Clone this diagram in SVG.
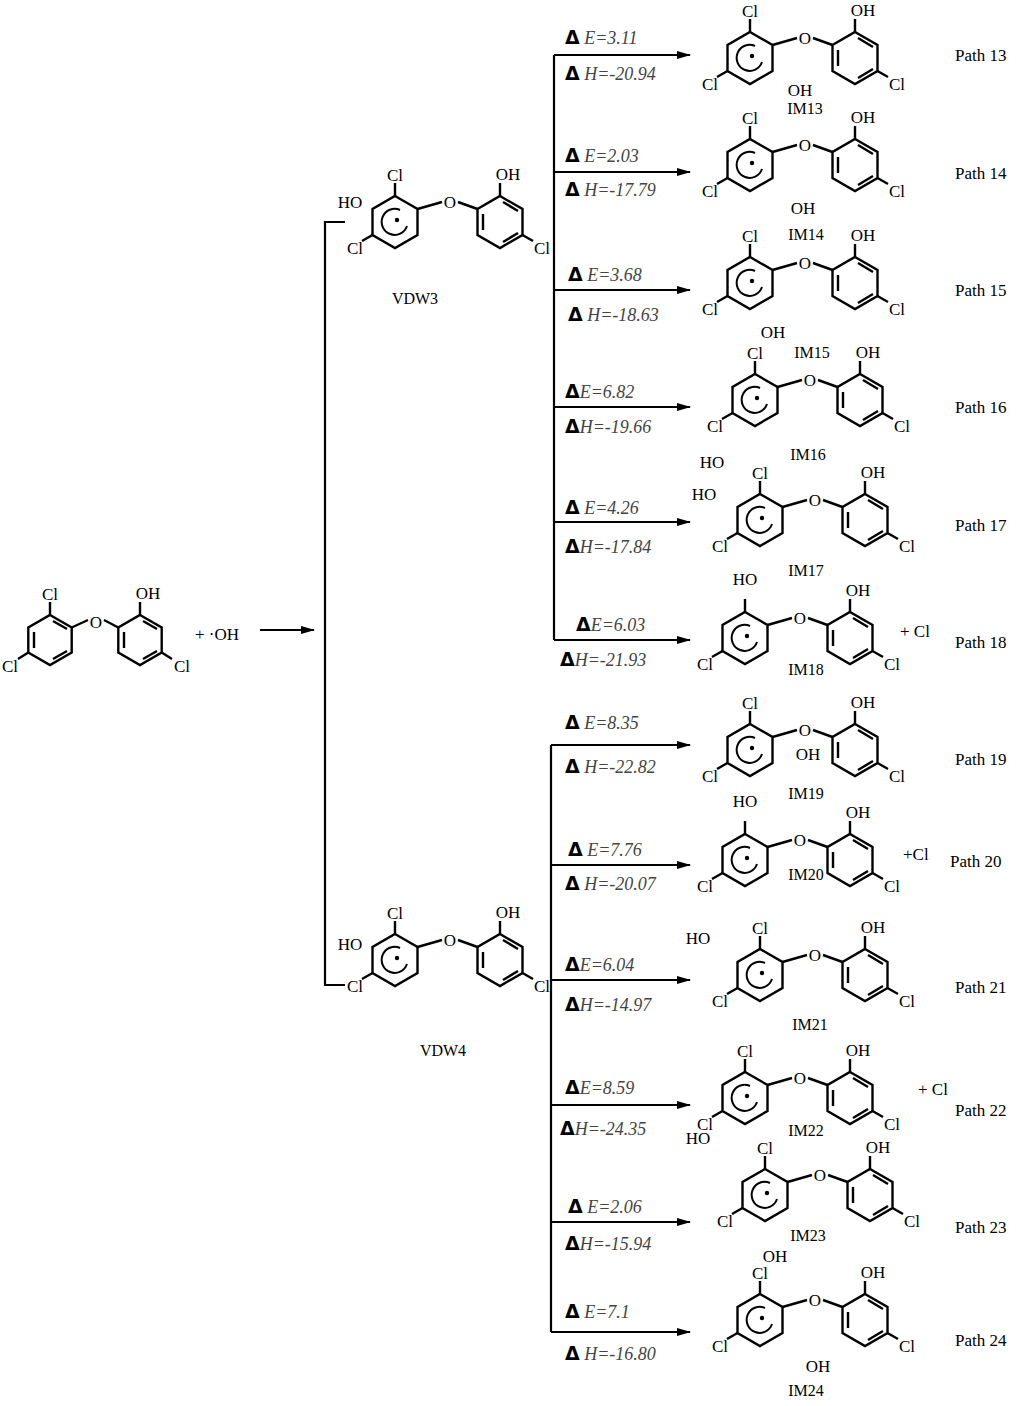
<svg xmlns="http://www.w3.org/2000/svg" xmlns:xlink="http://www.w3.org/1999/xlink" width="1024" height="1406" viewBox="0 0 1024 1406">
<style>
text{font-family:"Liberation Serif",serif;font-size:17px;fill:#000}
.a{font-size:17px;text-anchor:middle}
.e{font-style:italic;fill:#444;font-size:18px}
.d{font-family:"DejaVu Sans",sans-serif;font-weight:bold;font-style:normal;fill:#000;font-size:19px}
.lb{text-anchor:middle;font-size:16px}
.b{stroke:#000;stroke-width:2.4;fill:none}
.c{stroke:#000;stroke-width:2;fill:none}
</style>
<defs>
<marker id="ar" markerWidth="14" markerHeight="8" refX="13" refY="4" orient="auto" markerUnits="userSpaceOnUse"><path d="M0,0L14,4L0,8z" fill="#000"/></marker>
<g id="core">
<polygon class="b" points="0,-26 22.5,-13 22.5,13 0,26 -22.5,13 -22.5,-13"/>
<path class="b" d="M0,-26V-39M-22.5,13L-33,19M22.5,-13L47,-20M63,-20L82.5,-13M105,-26V-39M127.5,13L138,19"/>
<polygon class="b" points="105,-26 127.5,-13 127.5,13 105,26 82.5,13 82.5,-13"/>
<path class="b" d="M88,-8V8M108,-20L123,-11M108,20L123,11"/>
<path class="c" d="M5,-12A13,13 0 1 0 12,4"/>
<circle cx="2" cy="-2" r="2.2"/>
<text class="a" x="-40" y="32">Cl</text>
<text class="a" x="55" y="-14">O</text>
<text class="a" x="113" y="-42">OH</text>
<text class="a" x="147" y="32">Cl</text>
</g>
<g id="mol"><use href="#core"/><text class="a" x="0" y="-41">Cl</text></g>
<g id="mol0">
<polygon class="b" points="0,-25 21.7,-12.5 21.7,12.5 0,25 -21.7,12.5 -21.7,-12.5"/>
<path class="b" d="M0,-25V-38M-21.7,12.5L-32,19M21.7,-12.5L38,-20M54,-20L68.3,-12.5M90,-25V-38M111.7,12.5L122,19"/>
<polygon class="b" points="90,-25 111.7,-12.5 111.7,12.5 90,25 68.3,12.5 68.3,-12.5"/>
<path class="b" d="M74,-8V8M93,-19L107,-11M93,19L107,11M-16,-8V8M3,-19L17,-11M3,19L17,11"/>
<text x="0" y="-40" text-anchor="middle">Cl</text>
<text x="-40" y="32" text-anchor="middle">Cl</text>
<text x="46" y="-12" text-anchor="middle">O</text>
<text x="98" y="-41" text-anchor="middle">OH</text>
<text x="132" y="32" text-anchor="middle">Cl</text>
</g>
</defs>
<g id="reactant"><use href="#mol0" x="50" y="640"/><text x="195" y="640" font-size="22">+ ·OH</text></g>
<g id="VDW3"><use href="#mol" x="395" y="222"/><text x="350" y="208" class="a">HO</text><text x="415" y="304" class="lb" font-size="18">VDW3</text></g>
<g id="VDW4"><use href="#mol" x="395" y="960"/><text x="350" y="950" class="a">HO</text><text x="443" y="1056" class="lb" font-size="18">VDW4</text></g>
<g id="IM13"><use href="#mol" x="750" y="58"/><text class="a" x="800" y="96">OH</text><text class="lb" x="805" y="114">IM13</text><text x="955" y="61">Path 13</text></g>
<g id="IM14"><use href="#mol" x="750" y="165"/><text class="a" x="803" y="214">OH</text><text class="lb" x="806" y="240">IM14</text><text x="955" y="179">Path 14</text></g>
<g id="IM15"><use href="#mol" x="750" y="283"/><text class="a" x="773" y="338">OH</text><text class="lb" x="812" y="358">IM15</text><text x="955" y="296">Path 15</text></g>
<g id="IM16"><use href="#mol" x="755" y="400"/><text class="a" x="712" y="468">HO</text><text class="lb" x="808" y="460">IM16</text><text x="955" y="413">Path 16</text></g>
<g id="IM17"><use href="#mol" x="760" y="520"/><text class="a" x="704" y="500">HO</text><text class="lb" x="806" y="576">IM17</text><text x="955" y="531">Path 17</text></g>
<g id="IM18"><use href="#core" x="745" y="638"/><text class="a" x="745" y="585">HO</text><text class="lb" x="806" y="675">IM18</text><text x="900" y="637" font-size="20">+ Cl</text><text x="955" y="648">Path 18</text></g>
<g id="IM19"><use href="#mol" x="750" y="750"/><text class="a" x="808" y="760">OH</text><text class="lb" x="806" y="799">IM19</text><text x="955" y="765">Path 19</text></g>
<g id="IM20"><use href="#core" x="745" y="860"/><text class="a" x="745" y="807">HO</text><text class="lb" x="806" y="880">IM20</text><text x="903" y="860" font-size="20">+Cl</text><text x="950" y="867">Path 20</text></g>
<g id="IM21"><use href="#mol" x="760" y="975"/><text class="a" x="698" y="944">HO</text><text class="lb" x="810" y="1030">IM21</text><text x="955" y="993">Path 21</text></g>
<g id="IM22"><use href="#mol" x="745" y="1098"/><text class="a" x="698" y="1144">HO</text><text class="lb" x="806" y="1136">IM22</text><text x="918" y="1095" font-size="20">+ Cl</text><text x="955" y="1116">Path 22</text></g>
<g id="IM23"><use href="#mol" x="765" y="1195"/><text class="a" x="775" y="1262">OH</text><text class="lb" x="808" y="1241">IM23</text><text x="955" y="1233">Path 23</text></g>
<g id="IM24"><use href="#mol" x="760" y="1320"/><text class="a" x="818" y="1372">OH</text><text class="lb" x="806" y="1396">IM24</text><text x="955" y="1346">Path 24</text></g>
<g id="connectors" stroke="#000" stroke-width="2.2" fill="none">
<path d="M260,630H314" marker-end="url(#ar)"/>
<path d="M345,222H325V985H345"/>
<path d="M554,55V640M551,745V1332"/>
<path d="M554,55H690" marker-end="url(#ar)"/><path d="M554,172H690" marker-end="url(#ar)"/><path d="M554,290H690" marker-end="url(#ar)"/><path d="M554,407H690" marker-end="url(#ar)"/><path d="M554,522H690" marker-end="url(#ar)"/><path d="M554,640H690" marker-end="url(#ar)"/>
<path d="M551,745H690" marker-end="url(#ar)"/><path d="M551,865H690" marker-end="url(#ar)"/><path d="M551,980H690" marker-end="url(#ar)"/><path d="M551,1105H690" marker-end="url(#ar)"/><path d="M551,1222H690" marker-end="url(#ar)"/><path d="M551,1332H690" marker-end="url(#ar)"/>
</g>
<g id="labels">
<text x="565" y="44" class="e"><tspan class="d">Δ</tspan> E=3.11</text><text x="565" y="80" class="e"><tspan class="d">Δ</tspan> H=-20.94</text>
<text x="565" y="162" class="e"><tspan class="d">Δ</tspan> E=2.03</text><text x="565" y="196" class="e"><tspan class="d">Δ</tspan> H=-17.79</text>
<text x="568" y="281" class="e"><tspan class="d">Δ</tspan> E=3.68</text><text x="568" y="321" class="e"><tspan class="d">Δ</tspan> H=-18.63</text>
<text x="565" y="398" class="e"><tspan class="d">Δ</tspan>E=6.82</text><text x="565" y="433" class="e"><tspan class="d">Δ</tspan>H=-19.66</text>
<text x="565" y="514" class="e"><tspan class="d">Δ</tspan> E=4.26</text><text x="565" y="553" class="e"><tspan class="d">Δ</tspan>H=-17.84</text>
<text x="576" y="631" class="e"><tspan class="d">Δ</tspan>E=6.03</text><text x="560" y="666" class="e"><tspan class="d">Δ</tspan>H=-21.93</text>
<text x="565" y="729" class="e"><tspan class="d">Δ</tspan> E=8.35</text><text x="565" y="773" class="e"><tspan class="d">Δ</tspan> H=-22.82</text>
<text x="568" y="856" class="e"><tspan class="d">Δ</tspan> E=7.76</text><text x="565" y="890" class="e"><tspan class="d">Δ</tspan> H=-20.07</text>
<text x="565" y="971" class="e"><tspan class="d">Δ</tspan>E=6.04</text><text x="565" y="1011" class="e"><tspan class="d">Δ</tspan>H=-14.97</text>
<text x="565" y="1094" class="e"><tspan class="d">Δ</tspan>E=8.59</text><text x="560" y="1135" class="e"><tspan class="d">Δ</tspan>H=-24.35</text>
<text x="568" y="1213" class="e"><tspan class="d">Δ</tspan> E=2.06</text><text x="565" y="1250" class="e"><tspan class="d">Δ</tspan>H=-15.94</text>
<text x="565" y="1318" class="e"><tspan class="d">Δ</tspan>  E=7.1</text><text x="565" y="1360" class="e"><tspan class="d">Δ</tspan> H=-16.80</text>
</g>
</svg>
